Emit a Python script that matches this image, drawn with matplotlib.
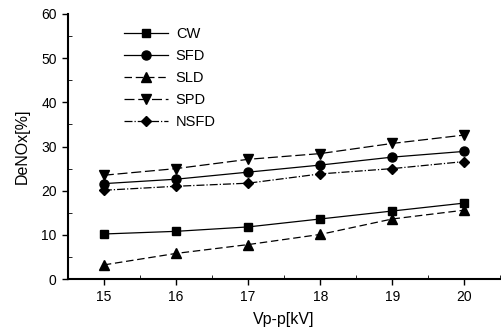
import matplotlib
matplotlib.use('Agg')
import matplotlib.pyplot as plt
from matplotlib.ticker import MultipleLocator

plt.rcParams['font.family'] = ['Liberation Sans', 'DejaVu Sans']

vpp = [15, 16, 17, 18, 19, 20]
cw = [10.2, 10.8, 11.8, 13.6, 15.4, 17.2]
sfd = [21.6, 22.6, 24.2, 25.8, 27.6, 28.9]
sld = [3.2, 5.8, 7.8, 10.1, 13.6, 15.6]
spd = [23.5, 25.0, 27.1, 28.4, 30.7, 32.6]
nsfd = [20.1, 21.0, 21.7, 23.8, 25.0, 26.6]

fig = plt.figure(figsize=(5.02, 3.33), dpi=100)
ax = fig.add_axes([0.135, 0.162, 0.862, 0.796])

ax.plot(vpp, cw, '-', marker='s', color='black', lw=0.9, ms=6, label='CW')
ax.plot(vpp, sfd, '-', marker='o', color='black', lw=0.9, ms=6.5, label='SFD')
ax.plot(vpp, sld, '--', marker='^', color='black', lw=0.9, ms=7, label='SLD', dashes=(6, 3))
ax.plot(vpp, spd, '--', marker='v', color='black', lw=0.9, ms=7, label='SPD', dashes=(8, 3))
ax.plot(vpp, nsfd, '-.', marker='D', color='black', lw=0.9, ms=5.5, label='NSFD')

ax.set_xlim(14.5, 20.5)
ax.set_ylim(0, 60)
ax.xaxis.set_major_locator(MultipleLocator(1))
ax.xaxis.set_minor_locator(MultipleLocator(0.5))
ax.yaxis.set_major_locator(MultipleLocator(10))
ax.yaxis.set_minor_locator(MultipleLocator(5))
ax.spines['top'].set_visible(False)
ax.spines['right'].set_visible(False)
ax.spines['left'].set_linewidth(1.5)
ax.spines['bottom'].set_linewidth(1.5)
ax.tick_params(labelsize=10, width=1, length=4, pad=4)
ax.tick_params(which='minor', length=3, direction='in')

ax.set_xlabel('Vp-p[kV]', fontsize=11.5, labelpad=6)
ax.set_ylabel('DeNOx[%]', fontsize=11.5, labelpad=8)

ax.legend(loc='upper left', bbox_to_anchor=(0.13, 0.95), frameon=False, fontsize=10.5,
          handlelength=3, labelspacing=0.55, handletextpad=0.55,
          borderaxespad=0, borderpad=0)

fig.savefig('out.png', dpi=100)
